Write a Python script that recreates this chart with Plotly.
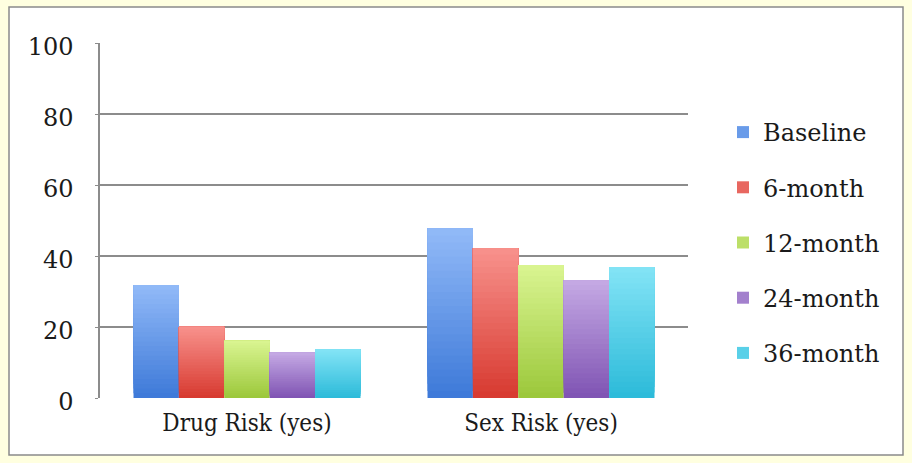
import plotly.graph_objects as go

# Share of participants reporting each risk behaviour, by follow-up wave
categories = ["Drug Risk (yes)", "Sex Risk (yes)"]
waves = ["Baseline", "6-month", "12-month", "24-month", "36-month"]
baseline = [31.8, 47.8]
month_6 = [20.1, 42.2]
month_12 = [16.1, 37.5]
month_24 = [12.8, 33.2]
month_36 = [13.7, 36.9]
y_ticks = [0, 20, 40, 60, 80, 100]

series = [baseline, month_6, month_12, month_24, month_36]

# (top colour, bottom colour) of each bar's vertical gradient
shades = [
    ("#92BAF8", "#3D79D8"),
    ("#F8928D", "#D7392F"),
    ("#DAF592", "#9BC73A"),
    ("#C5AAE4", "#7F53B3"),
    ("#84E4F6", "#2BBAD9"),
]

FONT = "DejaVu Serif"
CAT_FONT = "DejaVu Serif Condensed, DejaVu Serif, serif"
TEXT = "#1a1a1a"
GRID = "#8c8c8c"
STEPS = 24


def hex_rgb(h):
    h = h.lstrip("#")
    return tuple(int(h[i:i + 2], 16) for i in (0, 2, 4))


def blend(top, bottom, t):
    a, b = hex_rgb(top), hex_rgb(bottom)
    return "rgb({},{},{})".format(*[round(b[i] + (a[i] - b[i]) * t) for i in range(3)])


fig = go.Figure()
for name, values, (top, bottom) in zip(waves, series, shades):
    # overlapping layers, each running from a higher base up to the bar's top,
    # so the bar fades from dark at the bottom to light at the top
    for k in range(STEPS):
        t = (k + 0.5) / STEPS
        fig.add_trace(go.Bar(
            x=categories,
            y=[v - v * k / STEPS for v in values],
            base=[v * k / STEPS for v in values],
            offsetgroup=name,
            legendgroup=name,
            name=name,
            showlegend=(k == STEPS // 2),
            marker=dict(color=blend(top, bottom, t), line=dict(width=0)),
            customdata=values,
            hovertemplate="%{x}<br>" + name + ": %{customdata}<extra></extra>",
        ))

W, H = 912, 463
L, R, T, B = 100, 224, 43, 65
pw, ph = W - L - R, H - T - B


def px_x(x):
    return (x - L) / pw


def px_y(y):
    return (H - B - y) / ph


fig.update_layout(
    width=W,
    height=H,
    margin=dict(l=L, r=R, t=T, b=B, pad=0),
    paper_bgcolor="#FFFFE0",
    plot_bgcolor="#FFFFFF",
    barmode="group",
    bargap=0.228,
    bargroupgap=0,
    font=dict(family=FONT, size=24, color=TEXT),
    showlegend=True,
    legend=dict(
        x=px_x(723),
        y=px_y(110),
        xanchor="left",
        yanchor="top",
        bgcolor="rgba(0,0,0,0)",
        traceorder="grouped",
        tracegroupgap=21,
        font=dict(family=FONT, size=24, color=TEXT),
        itemclick=False,
    ),
    xaxis=dict(
        showgrid=False,
        showline=False,
        ticks="",
        tickfont=dict(family=CAT_FONT, size=24, color=TEXT),
        ticklabelstandoff=8,
    ),
    yaxis=dict(
        range=[0, 100],
        tickvals=y_ticks,
        showgrid=True,
        gridcolor=GRID,
        gridwidth=1.5,
        showline=True,
        linecolor=GRID,
        linewidth=1.5,
        ticks="outside",
        ticklen=3,
        tickcolor=GRID,
        tickfont=dict(family=FONT, size=24, color=TEXT),
        ticklabelstandoff=17,
        ticklabelshift=4,
        zeroline=False,
    ),
    shapes=[
        dict(
            type="rect",
            xref="paper",
            yref="paper",
            x0=px_x(9),
            x1=px_x(903),
            y0=px_y(455),
            y1=px_y(7),
            line=dict(color="#8a8a8a", width=1.5),
            fillcolor="#FFFFFF",
            layer="below",
        )
    ],
)

fig.write_html("out.html")
